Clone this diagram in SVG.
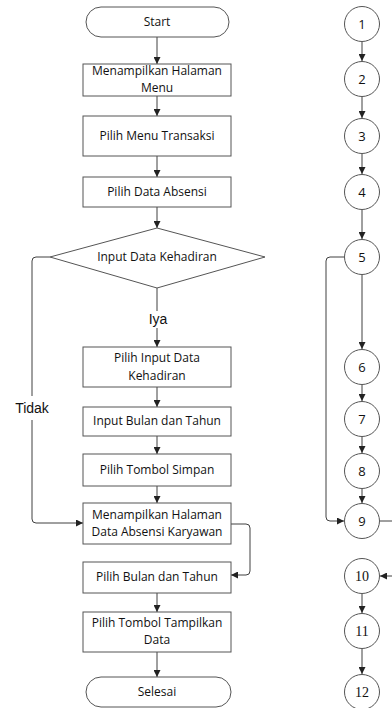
<svg xmlns="http://www.w3.org/2000/svg" width="392" height="708" viewBox="0 0 392 708">
  <style>
    .shape { fill: #ffffff; stroke: #555555; stroke-width: 1; }
    .line { fill: none; stroke: #404040; stroke-width: 1; }
    .lbl { font-family: "Open Sans", "Liberation Sans", sans-serif; font-size: 12px; fill: #111111; text-anchor: middle; }
    .edge { font-family: "Liberation Sans", Arial, sans-serif; font-size: 14px; fill: #111111; text-anchor: middle; }
    .num { font-family: "Open Sans", "Liberation Sans", sans-serif; font-size: 13px; fill: #111111; text-anchor: middle; }
    .nums { font-family: "Liberation Serif", serif; font-size: 14px; fill: #111111; text-anchor: middle; }
  </style>
  <defs>
    <marker id="arrow" viewBox="0 0 8 8" refX="8" refY="4" markerWidth="7" markerHeight="7" markerUnits="userSpaceOnUse" orient="auto">
      <path d="M0,0 L8,4 L0,8 Z" fill="#222222"/>
    </marker>
  </defs>

  <rect width="392" height="708" fill="#ffffff"/>

  <!-- flowchart connectors -->
  <g id="flow-connectors">
    <line class="line" x1="157" y1="37" x2="157" y2="64" marker-end="url(#arrow)"/>
    <line class="line" x1="157" y1="96" x2="157" y2="116" marker-end="url(#arrow)"/>
    <line class="line" x1="157" y1="156" x2="157" y2="177" marker-end="url(#arrow)"/>
    <line class="line" x1="157" y1="207" x2="157" y2="228" marker-end="url(#arrow)"/>
    <line class="line" x1="157" y1="288" x2="157" y2="311"/>
    <line class="line" x1="157" y1="328" x2="157" y2="347" marker-end="url(#arrow)"/>
    <line class="line" x1="157" y1="387" x2="157" y2="407" marker-end="url(#arrow)"/>
    <line class="line" x1="157" y1="436" x2="157" y2="454" marker-end="url(#arrow)"/>
    <line class="line" x1="157" y1="486" x2="157" y2="503" marker-end="url(#arrow)"/>
    <path class="line" d="M50,257 H36 Q32,257 32,261 V396"/>
    <path class="line" d="M32,420 V519 Q32,523 36,523 H83" marker-end="url(#arrow)"/>
    <path class="line" d="M231,524 H246 Q250,524 250,528 V571 Q250,575 246,575 H231" marker-end="url(#arrow)"/>
    <line class="line" x1="157" y1="593" x2="157" y2="612" marker-end="url(#arrow)"/>
    <line class="line" x1="157" y1="652" x2="157" y2="677" marker-end="url(#arrow)"/>
    <text class="edge" x="158" y="324">Iya</text>
    <text class="edge" x="32" y="413">Tidak</text>
  </g>

  <g id="start">
    <rect class="shape" x="86" y="7" width="143" height="30" rx="15"/>
    <text class="lbl" x="157" y="26">Start</text>
  </g>
  <g id="tampil-menu">
    <rect class="shape" x="83" y="64" width="148" height="32"/>
    <text class="lbl" x="157" y="75">Menampilkan Halaman</text>
    <text class="lbl" x="157" y="92">Menu</text>
  </g>
  <g id="pilih-transaksi">
    <rect class="shape" x="83" y="116" width="148" height="40"/>
    <text class="lbl" x="157" y="140">Pilih Menu Transaksi</text>
  </g>
  <g id="pilih-absensi">
    <rect class="shape" x="83" y="177" width="148" height="30"/>
    <text class="lbl" x="157" y="196">Pilih Data Absensi</text>
  </g>
  <g id="input-kehadiran">
    <polygon class="shape" points="157,228 265,257 157,288 50,257"/>
    <text class="lbl" x="157" y="261">Input Data Kehadiran</text>
  </g>
  <g id="pilih-input">
    <rect class="shape" x="83" y="347" width="148" height="40"/>
    <text class="lbl" x="157" y="362">Pilih Input Data</text>
    <text class="lbl" x="157" y="380">Kehadiran</text>
  </g>
  <g id="input-bulan">
    <rect class="shape" x="83" y="407" width="148" height="29"/>
    <text class="lbl" x="157" y="425">Input Bulan dan Tahun</text>
  </g>
  <g id="tombol-simpan">
    <rect class="shape" x="83" y="454" width="148" height="32"/>
    <text class="lbl" x="157" y="474">Pilih Tombol Simpan</text>
  </g>
  <g id="tampil-absensi">
    <rect class="shape" x="83" y="503" width="148" height="41"/>
    <text class="lbl" x="157" y="519">Menampilkan Halaman</text>
    <text class="lbl" x="157" y="536">Data Absensi Karyawan</text>
  </g>
  <g id="pilih-bulan">
    <rect class="shape" x="83" y="562" width="148" height="31"/>
    <text class="lbl" x="157" y="581">Pilih Bulan dan Tahun</text>
  </g>
  <g id="tombol-tampilkan">
    <rect class="shape" x="83" y="612" width="148" height="40"/>
    <text class="lbl" x="157" y="627">Pilih Tombol Tampilkan</text>
    <text class="lbl" x="157" y="644">Data</text>
  </g>
  <g id="selesai">
    <rect class="shape" x="86" y="677" width="145" height="30" rx="15"/>
    <text class="lbl" x="157" y="696">Selesai</text>
  </g>

  <!-- flow graph connectors -->
  <g id="graph-connectors">
    <line class="line" x1="362" y1="42" x2="362" y2="61" marker-end="url(#arrow)"/>
    <line class="line" x1="362" y1="97" x2="362" y2="118" marker-end="url(#arrow)"/>
    <line class="line" x1="362" y1="154" x2="362" y2="174" marker-end="url(#arrow)"/>
    <line class="line" x1="362" y1="210" x2="362" y2="239" marker-end="url(#arrow)"/>
    <line class="line" x1="362" y1="275" x2="362" y2="349" marker-end="url(#arrow)"/>
    <line class="line" x1="362" y1="385" x2="362" y2="401" marker-end="url(#arrow)"/>
    <line class="line" x1="362" y1="437" x2="362" y2="453" marker-end="url(#arrow)"/>
    <line class="line" x1="362" y1="489" x2="362" y2="503" marker-end="url(#arrow)"/>
    <path class="line" d="M344,257 H330 Q326,257 326,261 V517 Q326,521 330,521 H344" marker-end="url(#arrow)"/>
    <path class="line" d="M380,521 H398 V576 H380" marker-end="url(#arrow)"/>
    <line class="line" x1="362" y1="594" x2="362" y2="613" marker-end="url(#arrow)"/>
    <line class="line" x1="362" y1="649" x2="362" y2="674" marker-end="url(#arrow)"/>
  </g>

  <g id="n1"><circle class="shape" cx="362" cy="24" r="17.5"/><text class="num" x="362" y="29">1</text></g>
  <g id="n2"><circle class="shape" cx="362" cy="79" r="17.5"/><text class="num" x="362" y="84">2</text></g>
  <g id="n3"><circle class="shape" cx="362" cy="136" r="17.5"/><text class="num" x="362" y="141">3</text></g>
  <g id="n4"><circle class="shape" cx="362" cy="192" r="17.5"/><text class="num" x="362" y="197">4</text></g>
  <g id="n5"><circle class="shape" cx="362" cy="257" r="17.5"/><text class="num" x="362" y="262">5</text></g>
  <g id="n6"><circle class="shape" cx="362" cy="367" r="17.5"/><text class="num" x="362" y="372">6</text></g>
  <g id="n7"><circle class="shape" cx="362" cy="419" r="17.5"/><text class="num" x="362" y="424">7</text></g>
  <g id="n8"><circle class="shape" cx="362" cy="471" r="17.5"/><text class="num" x="362" y="476">8</text></g>
  <g id="n9"><circle class="shape" cx="362" cy="521" r="17.5"/><text class="num" x="362" y="526">9</text></g>
  <g id="n10"><circle class="shape" cx="362" cy="576" r="17.5"/><text class="nums" x="362" y="581">10</text></g>
  <g id="n11"><circle class="shape" cx="362" cy="631" r="17.5"/><text class="nums" x="362" y="636">11</text></g>
  <g id="n12"><circle class="shape" cx="362" cy="692" r="17.5"/><text class="nums" x="362" y="697">12</text></g>
</svg>
